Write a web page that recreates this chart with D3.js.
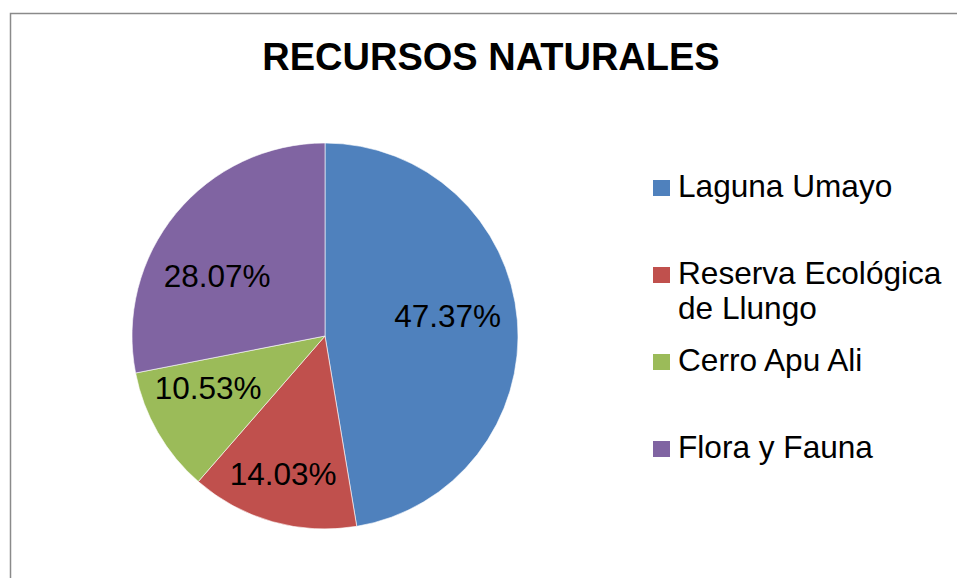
<!DOCTYPE html>
<html>
<head>
<meta charset="utf-8">
<script src="https://cdn.jsdelivr.net/npm/d3@7"></script>
<style>
  html, body { margin: 0; padding: 0; background: #fff; }
  svg { display: block; font-family: "Liberation Sans", Arial, sans-serif; }
</style>
</head>
<body>
<svg id="chart" width="957" height="578"></svg>
<script>
// data
const categories = ["Laguna Umayo", "Reserva Ecológica de Llungo", "Cerro Apu Ali", "Flora y Fauna"];
const values = [47.37, 14.03, 10.53, 28.07];
const valueLabels = ["47.37%", "14.03%", "10.53%", "28.07%"];
const legendLines = [["Laguna Umayo"], ["Reserva Ecológica", "de Llungo"], ["Cerro Apu Ali"], ["Flora y Fauna"]];
const title = "RECURSOS NATURALES";

const width = 957, height = 578;
const svg = d3.select("#chart");

const color = d3.scaleOrdinal()
  .domain(categories)
  .range(["#4F81BD", "#C0504D", "#9BBB59", "#8064A2"]);

// chart area frame
svg.append("rect")
  .attr("x", 10.5).attr("y", 13.5)
  .attr("width", width).attr("height", height)
  .attr("fill", "#fff")
  .attr("stroke", "#8a8a8a")
  .attr("stroke-width", 1.5);

svg.append("text")
  .attr("x", 491).attr("y", 70)
  .attr("text-anchor", "middle")
  .attr("font-size", 38)
  .attr("font-weight", "bold")
  .attr("fill", "#000")
  .text(title);

const cx = 325, cy = 336, r = 193;

const pie = d3.pie().sort(null).value((d) => d.value);
const arcs = pie(categories.map((c, i) => ({ name: c, value: values[i], label: valueLabels[i] })));

const arc = d3.arc().innerRadius(0).outerRadius(r);
const labelArc = d3.arc().innerRadius(128).outerRadius(128);
// "best fit" style nudges of the data labels, in px
const labelNudge = [[-5, -10], [-7, 14], [-6, -12], [-9, 21]];

const g = svg.append("g").attr("transform", `translate(${cx},${cy})`);

g.selectAll("path")
  .data(arcs)
  .join("path")
  .attr("d", arc)
  .attr("fill", (d) => color(d.data.name))
  .attr("stroke", "#fff")
  .attr("stroke-width", 0.6);

g.selectAll("text")
  .data(arcs)
  .join("text")
  .attr("transform", (d, i) => {
    const [x, y] = labelArc.centroid(d);
    return `translate(${x + labelNudge[i][0]},${y + labelNudge[i][1]})`;
  })
  .attr("text-anchor", "middle")
  .attr("dy", "0.36em")
  .attr("font-size", 31.5)
  .attr("fill", "#000")
  .text((d) => d.data.label);

// legend
const legendY = d3.scalePoint().domain(categories).range([197, 458]);
const item = svg.append("g")
  .selectAll("g")
  .data(categories)
  .join("g")
  .attr("transform", (d) => `translate(653,${legendY(d)})`);

item.append("rect")
  .attr("x", 0).attr("y", -17)
  .attr("width", 17).attr("height", 16)
  .attr("fill", (d) => color(d));

item.append("text")
  .attr("x", 25)
  .attr("font-size", 31.6)
  .attr("fill", "#000")
  .selectAll("tspan")
  .data((d, i) => legendLines[i])
  .join("tspan")
  .attr("x", 25)
  .attr("dy", (d, i) => (i === 0 ? 0 : 35))
  .text((d) => d);
</script>
</body>
</html>
